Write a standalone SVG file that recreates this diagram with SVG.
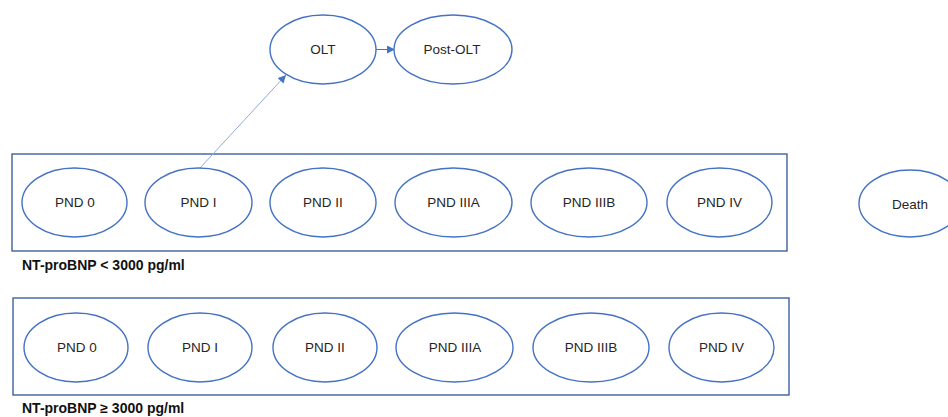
<svg xmlns="http://www.w3.org/2000/svg" width="948" height="417" viewBox="0 0 948 417">
<defs>
<style>
.n ellipse{fill:#fff;stroke:#4472C4;stroke-width:1.4}
.n text{font-family:"Liberation Sans",Arial,sans-serif;font-size:13.5px;fill:#262626;text-anchor:middle}
.box{fill:none;stroke:#2F5597;stroke-width:1.3}
.lbl{font-family:"Liberation Sans",Arial,sans-serif;font-size:14px;font-weight:bold;fill:#111}
.c{fill:none;stroke-width:1}
</style>
<marker id="ah" viewBox="0 0 10 10" refX="10" refY="5" markerWidth="8" markerHeight="8" markerUnits="userSpaceOnUse" orient="auto">
<path d="M0,0 L10,5 L0,10 Z" fill="#4472C4"/>
</marker>
</defs>
<rect width="948" height="417" fill="#fff"/>
<rect id="group-low" class="box" x="12" y="154" width="775" height="97"/>
<rect id="group-high" class="box" x="13" y="298" width="776" height="97"/>
<text class="lbl" x="22" y="270">NT-proBNP &lt; 3000 pg/ml</text>
<text class="lbl" x="22" y="413">NT-proBNP ≥ 3000 pg/ml</text>
<g id="connectors">
<line class="c" x1="200" y1="168" x2="286" y2="75" stroke="#8FAADC" marker-end="url(#ah)"/>
<line class="c" x1="376" y1="49.5" x2="395" y2="49.5" stroke="#4472C4" marker-end="url(#ah)"/>
</g>
<g id="olt" class="n"><ellipse cx="323" cy="49.5" rx="53" ry="34.5"/><text x="323" y="54">OLT</text></g>
<g id="post-olt" class="n"><ellipse cx="453" cy="49.5" rx="59" ry="34.5"/><text x="452" y="54">Post-OLT</text></g>
<g id="low-pnd0" class="n"><ellipse cx="74.5" cy="202.5" rx="52.5" ry="34.5"/><text x="75" y="207">PND 0</text></g>
<g id="low-pnd1" class="n"><ellipse cx="198.5" cy="202.5" rx="53.5" ry="34.5"/><text x="198.5" y="207">PND I</text></g>
<g id="low-pnd2" class="n"><ellipse cx="323" cy="202.5" rx="53" ry="34.5"/><text x="323" y="207">PND II</text></g>
<g id="low-pnd3a" class="n"><ellipse cx="453.5" cy="202.5" rx="58.5" ry="34.5"/><text x="453.5" y="207">PND IIIA</text></g>
<g id="low-pnd3b" class="n"><ellipse cx="589" cy="202.5" rx="58" ry="34.5"/><text x="589" y="207">PND IIIB</text></g>
<g id="low-pnd4" class="n"><ellipse cx="719.5" cy="202.5" rx="52.5" ry="34.5"/><text x="719.5" y="207">PND IV</text></g>
<g id="death" class="n"><ellipse cx="910" cy="203.5" rx="51" ry="33.5"/><text x="910" y="209">Death</text></g>
<g id="high-pnd0" class="n"><ellipse cx="76" cy="347.5" rx="52" ry="34.5"/><text x="77" y="352">PND 0</text></g>
<g id="high-pnd1" class="n"><ellipse cx="200" cy="347.5" rx="52" ry="34.5"/><text x="200" y="352">PND I</text></g>
<g id="high-pnd2" class="n"><ellipse cx="325" cy="347.5" rx="52" ry="34.5"/><text x="325" y="352">PND II</text></g>
<g id="high-pnd3a" class="n"><ellipse cx="454.5" cy="347.5" rx="58.5" ry="34.5"/><text x="455" y="352">PND IIIA</text></g>
<g id="high-pnd3b" class="n"><ellipse cx="591" cy="347.5" rx="58" ry="34.5"/><text x="591" y="352">PND IIIB</text></g>
<g id="high-pnd4" class="n"><ellipse cx="721.5" cy="347.5" rx="52.5" ry="34.5"/><text x="721.5" y="352">PND IV</text></g>
</svg>
